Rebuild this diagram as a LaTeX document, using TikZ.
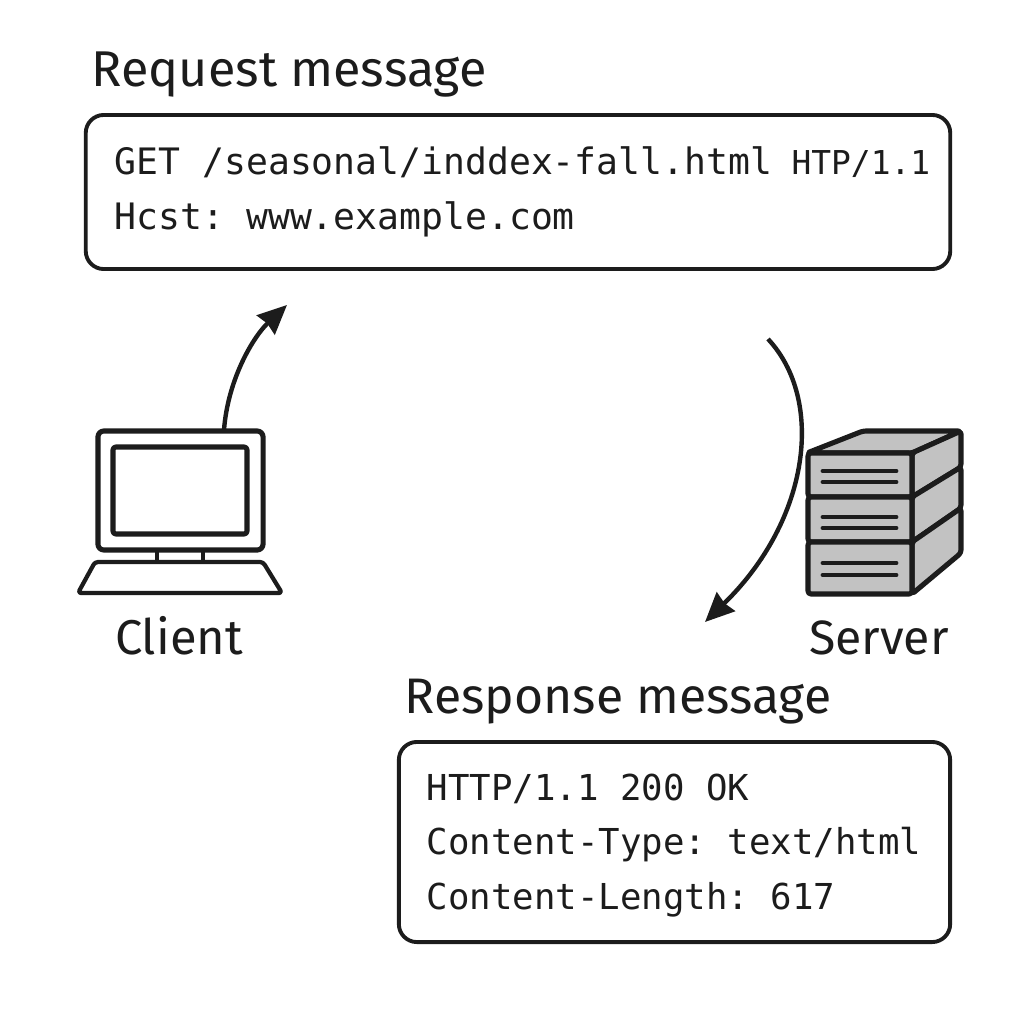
\documentclass[tikz,border=0pt]{standalone}
\usepackage{fontspec}
\setmainfont{Fira Sans}
\setmonofont{DejaVu Sans Mono}
\usetikzlibrary{arrows.meta}
\definecolor{ink}{HTML}{1C1C1C}
\definecolor{rack}{HTML}{C2C2C2}
\newcommand\gap{\hspace{0.602em}}
\tikzset{
    heading/.style={anchor=base west, inner sep=0pt, text=ink, font=\fontsize{#1}{16}\selectfont},
    caption/.style={anchor=base, inner sep=0pt, text=ink, font=\fontsize{#1}{16}\selectfont},
    msgbox/.style={draw=ink, line width=1.1pt, rounded corners=0.18cm, outer sep=0pt, align=left, text=ink, inner sep=0pt},
    icon/.style={draw=ink, line width=1.45pt, line join=round, rounded corners=0.03cm},
    slat/.style={draw=ink, line width=1.4pt, line cap=round},
    flow/.style={draw=ink, line width=1.25pt, -{Stealth[length=0.29cm, width=0.26cm, inset=0.02cm]}},
}
\begin{document}
\begin{tikzpicture}[x=0.01cm, y={(0cm,-0.01cm)}]
        \useasboundingbox[fill=white] (0,0) rectangle (1024,1024);
        % messages
        \node[heading=14.3] (reqtitle) at (91,87) {Request message};
        \node[msgbox, font=\ttfamily\fontsize{10.35}{15.5}\selectfont, minimum width=8.64cm, minimum height=1.54cm, text width=8.06cm] (reqbox) at (518,192)
            {\rule{0pt}{7.9pt}GET\gap /seasonal/inddex-fall.html\gap\hspace{-0.7pt}\rlap{\fontsize{9.35}{15.5}\selectfont HTP/1.1}\\Hcst:\gap www.example.com};
        \node[heading=14.2] (resptitle) at (404,713) {Response message};
        \node[msgbox, font=\ttfamily\fontsize{10.15}{15.5}\selectfont, minimum width=5.51cm, minimum height=2cm, text width=4.95cm] (respbox) at (674.5,842)
            {\rule{0pt}{9.55pt}HTTP/1.1\gap 200\gap OK\\Content-Type:\gap text/html\\Content-Length:\gap 617};
        % client
        \node[icon, rounded corners=0.06cm, minimum width=1.65cm, minimum height=1.19cm, outer sep=0pt] (monitor) at (180.5,490.5) {};
        \node[icon, minimum width=1.34cm, minimum height=0.87cm, outer sep=0pt] (screen) at (180,490.5) {};
        \draw[icon, line width=1.2pt] (157,550) -- (157,562) (203,550) -- (203,562);
        \draw[icon, line width=1.2pt] (95,562) -- (263,562) -- (282,593) -- (78,593) -- cycle;
        \node[caption=13.9] (client) at (179,654) {Client};
        % server
        \draw[icon, fill=rack] (807,453) -- (863,431) -- (961,431) -- (912,453) -- cycle;
        \foreach\upper/\lower/\backup/\backlow in {453/497/431/467, 497/542/467/508, 542/594/508/553}
        {%
            \draw[icon, fill=rack] (912,\upper) -- (961,\backup) -- (961,\backlow) -- (912,\lower) -- cycle;
            \draw[icon, fill=rack] (808,\upper) rectangle (912,\lower);
        }
        \foreach\y in {471,482,517,528,563,575}
            \draw[slat] (823,\y) -- (896,\y);
        \node[caption=13.7] (server) at (879,654) {Server};
        % flows
        \coordinate (clientout) at (224,430);
        \coordinate (reqin) at (287,305);
        \coordinate (reqout) at (768,339);
        \coordinate (respin) at (705,622);
        \draw[flow] (clientout) .. controls (228,378) and (254,336) .. (reqin);
        \draw[flow] (reqout) .. controls (825,400) and (810,520) .. (respin);
\end{tikzpicture}
\end{document}
